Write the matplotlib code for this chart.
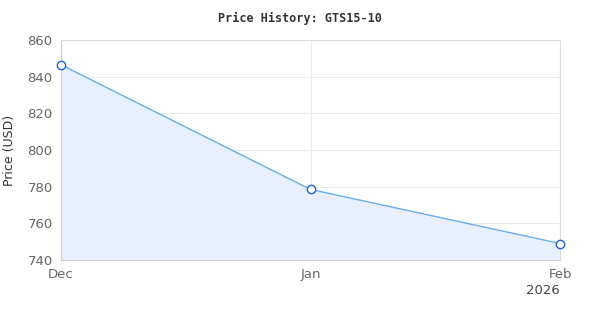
import matplotlib
matplotlib.use("Agg")
import matplotlib.pyplot as plt
import matplotlib.dates as mdates
import numpy as np
import datetime as dt

matplotlib.rcParams['font.family'] = 'DejaVu Sans'

dates = [dt.date(2025, 12, 1), dt.date(2026, 1, 1), dt.date(2026, 2, 1)]
prices = [846.5, 778.5, 749.0]
tick_labels = ["Dec", "Jan", "Feb"]
yticks = [740, 760, 780, 800, 820, 840, 860]

fig = plt.figure(figsize=(6, 3.2), dpi=100)
ax = fig.add_axes([61 / 600, 60 / 320, 499 / 600, 220 / 320])

x = mdates.date2num(dates)
ax.fill_between(x, prices, 740, color="#e8f0fd", zorder=1)
ax.plot(x, prices, color="#6aaef0", lw=1, zorder=2)
ax.scatter(x, prices, s=36, facecolor="white", edgecolor="#1f5fe0", lw=1, zorder=3, clip_on=False)

ax.set_xlim(x[0], x[-1])
ax.set_ylim(740, 860)
ax.set_xticks(x)
ax.set_xticklabels(tick_labels)
ax.set_yticks(yticks)
ax.grid(True, color="#ebebeb", lw=0.8, zorder=0)
ax.set_axisbelow(True)
for side, sp in ax.spines.items():
    sp.set_color("#dcdcdc" if side in ("top", "right") else "#cccccc")
    sp.set_linewidth(0.8)
ax.tick_params(length=0, colors="#666666", labelsize=9.5)
ax.tick_params(axis="x", pad=6)
ax.tick_params(axis="y", pad=6)

ax.text(x[-1], -30 / 220, "2026", transform=ax.get_xaxis_transform(),
        ha="right", va="center", fontsize=9.5, color="#444444")
fig.text(10 / 600, 1 - 150 / 320, "Price (USD)", rotation=90, ha="center", va="center",
         fontsize=9, color="#333333")
fig.text(0.5, 1 - 18 / 320, "Price History: GTS15-10", ha="center", va="center",
         fontsize=8.5, fontweight="bold", family="DejaVu Sans Mono", color="#333333")

fig.savefig("out.png", dpi=100)
